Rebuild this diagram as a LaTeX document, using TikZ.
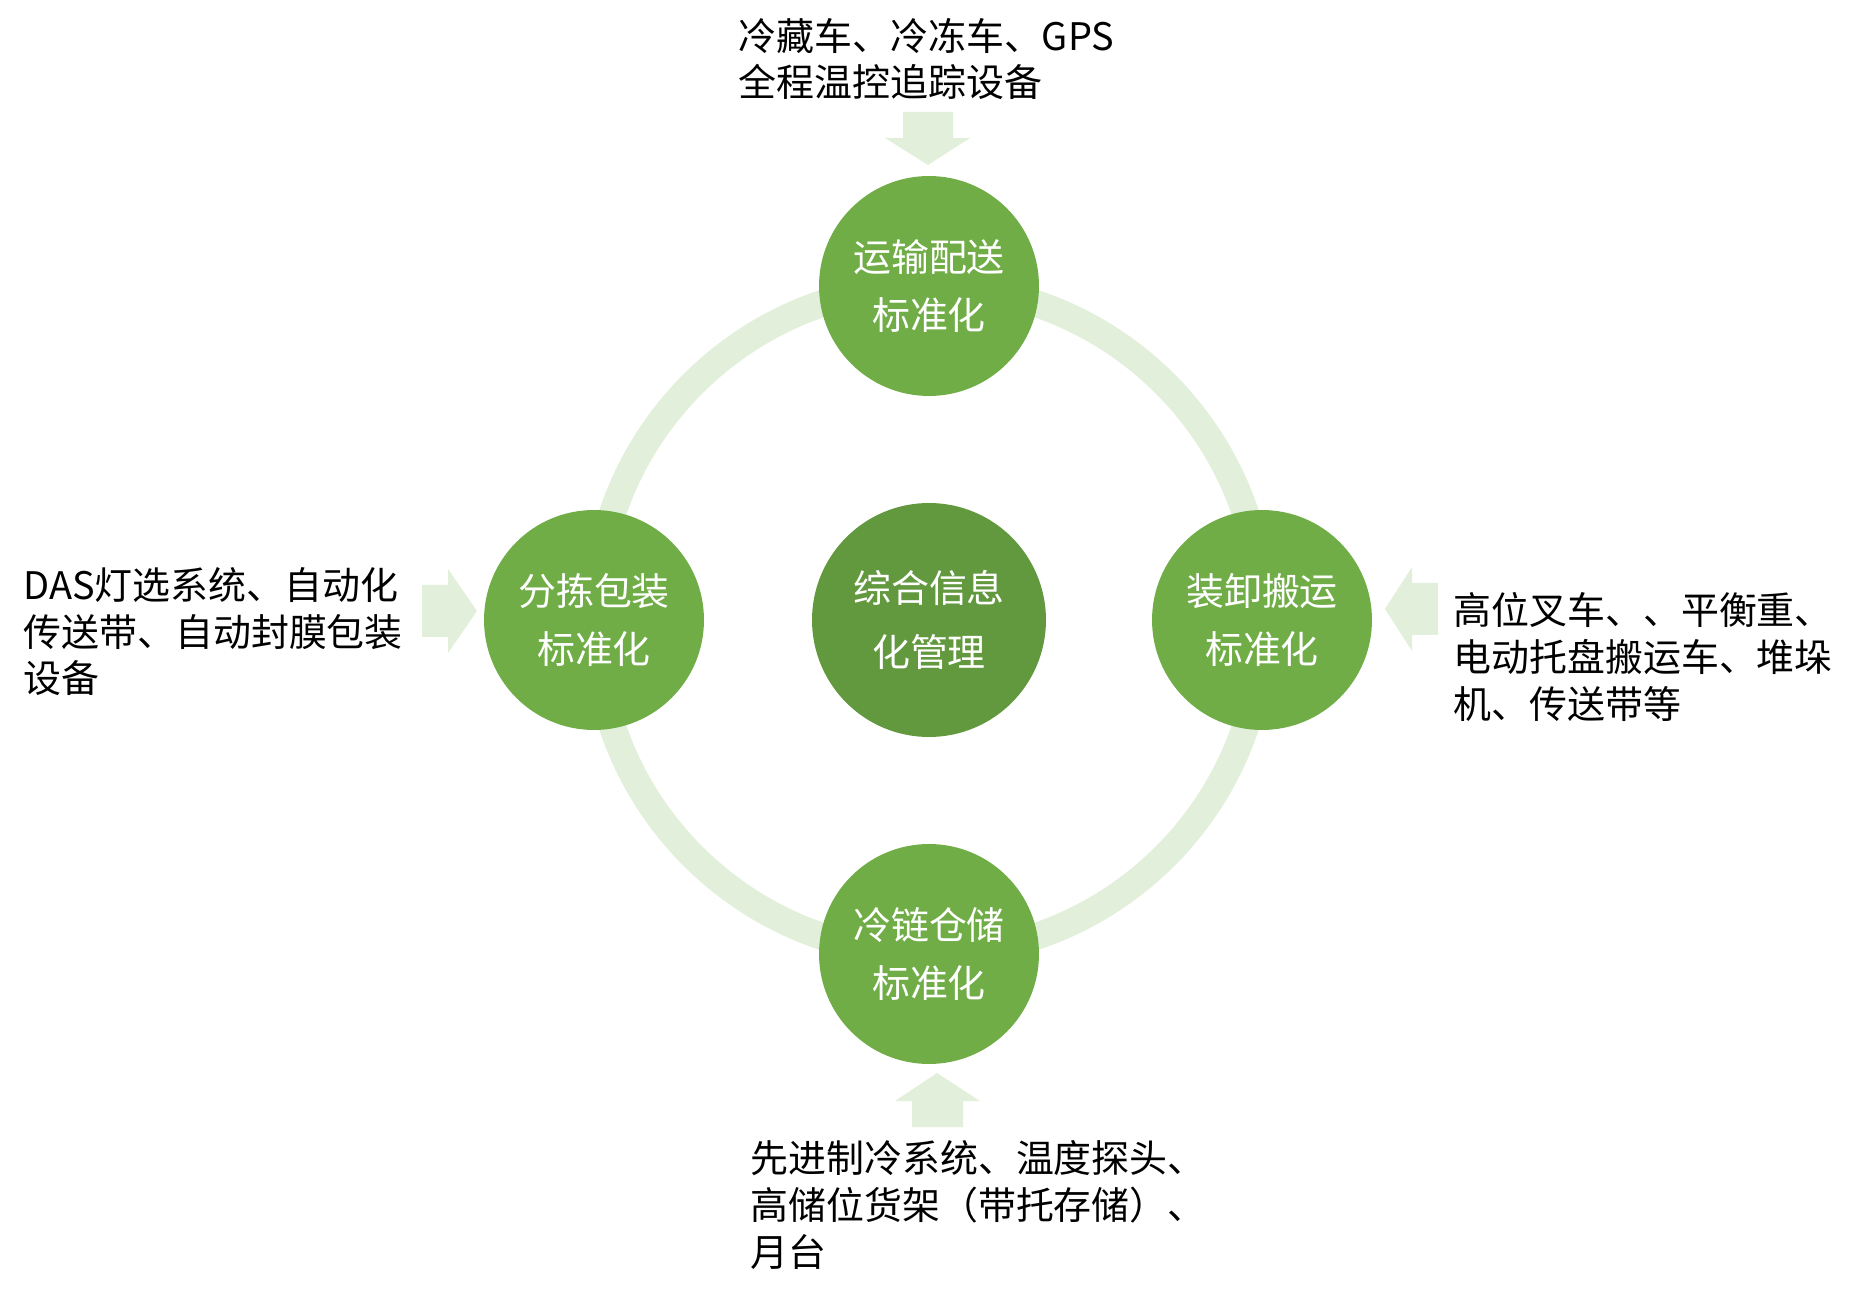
\documentclass[tikz,border=0pt]{standalone}
\usepackage{fontspec}
\setmainfont{Noto Sans CJK SC}
\usetikzlibrary{positioning}
\definecolor{ringgreen}{RGB}{226,239,218}
\definecolor{stagegreen}{RGB}{112,173,71}
\definecolor{coregreen}{RGB}{98,152,62}

\begin{document}
\begin{tikzpicture}[x=0.02cm, y=-0.02cm,
    stage/.style={circle, fill=stagegreen, minimum size=4.4cm, inner sep=0pt,
        text=white, align=center, font=\fontsize{21.6}{33.5}\selectfont},
    core/.style={stage, fill=coregreen, minimum size=4.68cm,
        font=\fontsize{21.6}{36.5}\selectfont},
    gear/.style={anchor=west, inner sep=0pt, align=left,
        font=\fontsize{21.6}{26.5}\selectfont},
    feed/.style={fill=ringgreen}]
    \useasboundingbox (0,0) rectangle (1853,1293);

    % 外圈
    \draw[ringgreen, line width=0.54cm] (929,620) circle (6.68cm);

    % 四个环节及中心
    \node[stage] (trans) at (929,286) {运输配送\\标准化};
    \node[stage] (pack)  at (594,620) {分拣包装\\标准化};
    \node[stage] (load)  at (1262,620) {装卸搬运\\标准化};
    \node[stage] (store) at (929,954) {冷链仓储\\标准化};
    \node[core]  (info)  at (929,620) {综合信息\\化管理};

    % 设备说明
    \node[gear] (transEq) at (738,59) {冷藏车、冷冻车、GPS\\全程温控追踪设备};
    \node[gear] (packEq)  at (23,632) {DAS灯选系统、自动化\\传送带、自动封膜包装\\设备};
    \node[gear] (loadEq)  at (1453,657) {高位叉车、、平衡重、\\电动托盘搬运车、堆垛\\机、传送带等};
    \node[gear] (storeEq) at (750,1205) {先进制冷系统、温度探头、\\高储位货架（带托存储）、\\月台};

    % 块状箭头
    \fill[feed] (903,112) -- (953,112) -- (953,138) -- (970,138) -- (928,165)
        -- (885,138) -- (903,138) -- cycle;
    \fill[feed] (912,1127) -- (963,1127) -- (963,1101) -- (980,1101) -- (937,1073)
        -- (895,1101) -- (912,1101) -- cycle;
    \fill[feed] (422,585) -- (448,585) -- (448,569) -- (477,611) -- (448,653)
        -- (448,637) -- (422,637) -- cycle;
    \fill[feed] (1438,583) -- (1412,583) -- (1412,567) -- (1385,609) -- (1412,651)
        -- (1412,635) -- (1438,635) -- cycle;
\end{tikzpicture}
\end{document}
